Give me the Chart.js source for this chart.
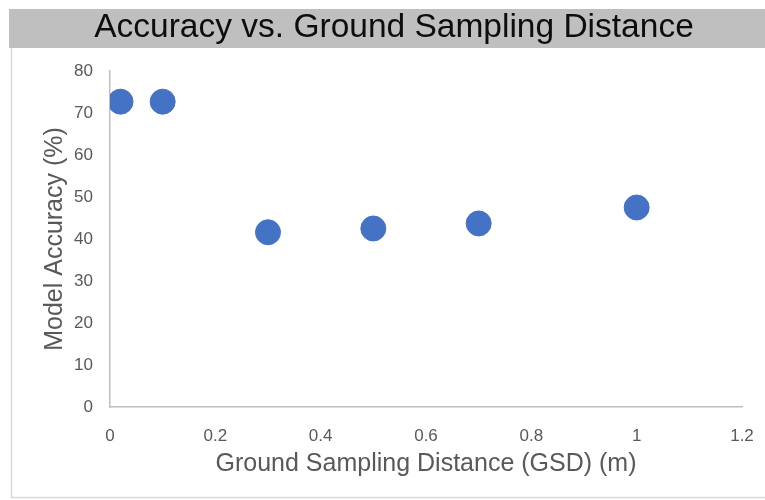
<!DOCTYPE html>
<html>
<head>
<meta charset="utf-8">
<script src="https://cdn.jsdelivr.net/npm/chart.js@4/dist/chart.umd.min.js"></script>
<style>
  html, body { margin: 0; padding: 0; background: #ffffff; }
  #wrap { width: 765px; height: 500px; position: relative; }
</style>
</head>
<body>
<div id="wrap"><canvas id="c" width="765" height="500"></canvas></div>
<script>
// ---- data ----
const gsdValues = [0.02, 0.1, 0.3, 0.5, 0.7, 1.0];
const accuracyValues = [72.7, 72.7, 41.6, 42.5, 43.7, 47.5];
const xTickValues = [0, 0.2, 0.4, 0.6, 0.8, 1, 1.2];
const xTickLabels = ['0', '0.2', '0.4', '0.6', '0.8', '1', '1.2'];
const yTickValues = [0, 10, 20, 30, 40, 50, 60, 70, 80];
const yTickLabels = ['0', '10', '20', '30', '40', '50', '60', '70', '80'];
const chartTitle = 'Accuracy vs. Ground Sampling Distance';
const xAxisTitle = 'Ground Sampling Distance (GSD) (m)';
const yAxisTitle = 'Model Accuracy (%)';

const FONT = '"Liberation Sans", Arial, sans-serif';
const points = gsdValues.map((x, i) => ({ x: x, y: accuracyValues[i] }));

const decor = {
  id: 'decor',
  beforeDraw(chart) {
    const ctx = chart.ctx;
    ctx.save();
    // title band
    ctx.fillStyle = '#bfbfbf';
    ctx.fillRect(9, 9, 756, 39);
    // panel border
    ctx.strokeStyle = '#d9d9d9';
    ctx.lineWidth = 1.5;
    ctx.beginPath();
    ctx.moveTo(11.5, 48);
    ctx.lineTo(11.5, 497.5);
    ctx.lineTo(765, 497.5);
    ctx.stroke();
    ctx.restore();
  }
};

new Chart(document.getElementById('c'), {
  type: 'scatter',
  data: {
    datasets: [{
      label: 'Accuracy',
      data: points,
      backgroundColor: '#4472c4',
      borderColor: '#4472c4',
      borderWidth: 1,
      pointRadius: 12.5,
      pointHoverRadius: 12.5
    }]
  },
  options: {
    responsive: false,
    animation: false,
    devicePixelRatio: 1,
    layout: { padding: { left: 23, right: 0, top: 0, bottom: 0 } },
    plugins: {
      legend: { display: false },
      tooltip: { enabled: false },
      title: {
        display: true,
        text: chartTitle,
        color: '#0d0d0d',
        font: { family: FONT, size: 33.5, weight: 'normal' },
        padding: { top: 8, bottom: 22.8 }
      }
    },
    scales: {
      x: {
        type: 'linear',
        min: 0,
        max: 1.2,
        afterBuildTicks: (s) => { s.ticks = xTickValues.map(v => ({ value: v })); },
        afterFit: (s) => { s.height = 93; },
        grid: { display: false },
        border: { display: true, color: '#bfbfbf', width: 1.5 },
        ticks: {
          color: '#595959',
          font: { family: FONT, size: 17 },
          padding: 11,
          maxRotation: 0,
          callback: (v) => { const i = xTickValues.indexOf(v); return i >= 0 ? xTickLabels[i] : ''; }
        },
        title: {
          display: true,
          text: xAxisTitle,
          color: '#595959',
          font: { family: FONT, size: 25 },
          padding: { top: 0, bottom: 21 }
        }
      },
      y: {
        type: 'linear',
        position: 'left',
        min: 0,
        max: 80,
        afterBuildTicks: (s) => { s.ticks = yTickValues.map(v => ({ value: v })); },
        afterFit: (s) => { s.width = 87; },
        grid: { display: false },
        border: { display: true, color: '#bfbfbf', width: 1.5 },
        ticks: {
          color: '#595959',
          font: { family: FONT, size: 17 },
          padding: 9,
          callback: (v) => { const i = yTickValues.indexOf(v); return i >= 0 ? yTickLabels[i] : ''; }
        },
        title: {
          display: true,
          text: yAxisTitle,
          color: '#595959',
          font: { family: FONT, size: 25 },
          padding: { top: 17, bottom: 0 }
        }
      },
      yRightSpacer: {
        type: 'linear',
        position: 'right',
        display: true,
        afterFit: (s) => { s.width = 23; },
        grid: { display: false },
        border: { display: false },
        ticks: { display: false },
        title: { display: false }
      }
    }
  },
  plugins: [decor]
});
</script>
</body>
</html>
